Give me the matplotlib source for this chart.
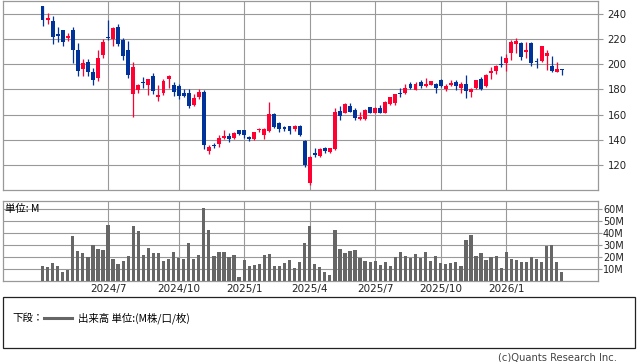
import numpy as np
import pandas as pd
import matplotlib
matplotlib.use('Agg')
import matplotlib.pyplot as plt
from matplotlib.patches import Rectangle
from matplotlib.lines import Line2D

# weekly candles, 2024/4 - 2026/3
weeks = pd.date_range('2024-04-01', periods=104, freq='W-MON')

opens = [245.8, 234.7, 233.9, 224.2, 226.8, 220.7, 226.8, 211.0, 196.0, 201.8,
         193.8, 189.1, 207.0, 221.2, 219.7, 229.4, 219.4, 211.5, 176.7, 179.9,
         186.2, 183.3, 190.6, 174.0, 177.2, 188.0, 183.3, 182.5, 177.2, 177.2,
         167.5, 173.6, 178.0, 131.3, 135.8, 136.4, 141.1, 143.2, 141.1, 147.7,
         147.7, 142.4, 140.6, 148.0, 143.7, 146.9, 160.3, 153.0, 149.2, 150.9,
         149.0, 150.9, 139.0, 106.0, 129.9, 127.1, 133.2, 130.5, 132.4, 163.0,
         161.4, 166.9, 163.5, 156.6, 156.6, 166.1, 161.4, 165.6, 161.4, 168.4,
         169.6, 176.9, 177.2, 184.1, 179.9, 185.7, 182.5, 183.8, 184.6, 187.2,
         180.7, 183.3, 185.9, 181.5, 184.6, 178.0, 181.5, 188.6, 182.7, 193.0,
         194.6, 200.3, 200.9, 208.8, 216.3, 216.7, 209.6, 216.7, 202.3, 202.3,
         206.5, 198.3, 193.8, 195.6]
highs = [246.5, 240.8, 237.9, 229.4, 227.0, 225.0, 229.4, 216.7, 203.8, 203.8,
         197.0, 211.0, 219.7, 234.7, 229.4, 231.5, 221.0, 218.1, 201.7, 184.6,
         189.9, 188.6, 193.0, 183.3, 188.6, 191.7, 185.9, 184.6, 180.7, 180.7,
         176.7, 180.7, 179.3, 135.8, 137.6, 143.7, 147.7, 145.1, 146.3, 148.0,
         148.2, 143.0, 146.3, 149.5, 149.5, 170.1, 160.9, 154.3, 150.9, 150.9,
         151.7, 151.7, 139.8, 127.2, 133.2, 133.2, 134.5, 133.7, 165.3, 166.7,
         169.3, 169.6, 164.9, 162.2, 164.4, 166.1, 166.1, 167.5, 170.9, 174.0,
         176.7, 181.2, 184.1, 185.5, 185.9, 187.2, 189.4, 187.0, 185.3, 188.0,
         184.1, 187.2, 187.2, 185.9, 191.2, 181.2, 187.8, 189.9, 192.0, 197.8,
         199.1, 206.2, 208.4, 218.9, 221.0, 217.5, 217.5, 217.5, 205.2, 214.8,
         211.0, 206.2, 201.7, 196.0]
lows = [230.2, 231.8, 216.3, 217.5, 214.4, 218.3, 201.0, 190.4, 190.4, 190.4,
        183.3, 186.7, 204.9, 219.5, 214.4, 214.4, 203.0, 189.4, 158.2, 177.2,
        181.5, 175.9, 176.7, 170.9, 175.4, 181.5, 174.8, 172.0, 174.0, 165.6,
        166.7, 172.5, 132.5, 128.7, 133.2, 134.5, 140.6, 138.0, 140.6, 144.2,
        141.6, 139.2, 139.8, 146.3, 140.6, 146.3, 149.5, 145.9, 146.9, 144.3,
        146.9, 143.2, 118.7, 104.0, 126.1, 126.1, 129.9, 129.9, 131.9, 155.6,
        160.9, 162.2, 155.6, 156.0, 156.0, 160.9, 160.9, 160.9, 160.9, 167.5,
        168.0, 174.0, 176.7, 180.0, 179.3, 181.5, 181.9, 183.5, 177.2, 182.0,
        178.8, 182.5, 179.9, 177.2, 172.8, 174.0, 180.7, 179.9, 182.0, 188.6,
        192.5, 197.8, 194.6, 203.6, 208.8, 203.1, 205.2, 198.6, 197.0, 201.8,
        195.7, 193.8, 193.8, 191.2]
closes = [235.3, 236.8, 221.5, 222.3, 217.5, 222.3, 211.0, 194.6, 201.0, 193.8,
          187.2, 204.9, 217.5, 220.8, 228.6, 216.3, 206.2, 191.2, 197.8, 183.3,
          185.1, 188.6, 178.8, 175.9, 186.4, 190.6, 178.0, 174.8, 174.8, 166.9,
          173.2, 178.0, 135.8, 134.0, 135.4, 141.6, 143.2, 140.6, 145.6, 144.5,
          143.7, 140.3, 145.9, 148.7, 149.0, 160.3, 150.3, 149.0, 149.0, 146.9,
          150.9, 143.7, 120.0, 126.6, 128.0, 132.7, 131.3, 133.2, 162.2, 158.8,
          168.3, 162.2, 157.0, 158.2, 163.5, 161.4, 165.3, 161.4, 170.1, 173.6,
          176.0, 176.5, 181.5, 180.9, 184.6, 182.5, 184.1, 186.4, 181.5, 182.5,
          182.5, 185.1, 182.7, 184.6, 178.5, 180.7, 187.2, 180.7, 191.2, 194.6,
          198.3, 199.5, 205.2, 217.5, 218.3, 205.7, 211.5, 200.9, 201.8, 214.8,
          209.1, 194.4, 196.0, 195.0]
# volume, millions
volume = [12.5, 11.7, 15.0, 12.5, 7.5, 9.2, 37.5, 25.0, 23.3, 20.0,
          30.0, 26.7, 25.8, 46.7, 18.3, 14.2, 16.7, 20.8, 45.8, 41.7,
          21.7, 27.5, 23.3, 23.3, 16.7, 18.3, 24.2, 19.2, 18.3, 31.7,
          18.3, 21.7, 60.8, 42.5, 20.8, 24.2, 24.2, 20.0, 21.7, 3.3,
          17.5, 12.5, 13.3, 14.2, 21.7, 22.5, 12.5, 12.5, 15.0, 17.5,
          10.8, 15.8, 31.7, 45.8, 14.2, 11.7, 7.5, 5.0, 42.5, 26.7,
          23.3, 25.0, 25.8, 19.2, 16.7, 15.8, 16.7, 13.3, 15.8, 12.5,
          20.0, 24.2, 20.8, 19.2, 22.5, 19.2, 24.2, 16.7, 20.8, 15.0,
          14.2, 15.0, 15.8, 12.5, 34.2, 38.3, 20.8, 23.3, 17.5, 20.0,
          20.8, 10.8, 24.0, 18.0, 17.5, 16.0, 16.0, 20.0, 18.3, 16.0,
          29.2, 30.0, 16.0, 7.5]

price_ticks = [120, 140, 160, 180, 200, 220, 240]
volume_ticks = [10, 20, 30, 40, 50, 60]
volume_labels = ['10M', '20M', '30M', '40M', '50M', '60M']

UP = '#ff0033'
DOWN = '#003399'
GRID = '#999999'
JP = ['Noto Sans CJK JP', 'DejaVu Sans']

plt.rcParams['font.family'] = ['DejaVu Sans', 'Noto Sans CJK JP']

W, H = 638, 362
fig = plt.figure(figsize=(W / 100, H / 100), dpi=100)

def box(x0, y0, x1, y1):
    return [x0 / W, 1 - y1 / H, (x1 - x0) / W, (y1 - y0) / H]

ax = fig.add_axes(box(3, 0.5, 598, 190.3))
axv = fig.add_axes(box(3, 201, 598, 281), sharex=ax)

idx = np.arange(len(weeks))
o = np.array(opens); c = np.array(closes)
colors = [UP if cc > oo else DOWN for oo, cc in zip(o, c)]

# month gridlines: first week of Jan/Apr/Jul/Oct
xt, xl = [], []
for i in range(1, len(weeks)):
    if weeks[i].month != weeks[i - 1].month and weeks[i].month in (1, 4, 7, 10):
        xt.append(i)
        xl.append(f'{weeks[i].year}/{weeks[i].month}')

# candles
ax.vlines(idx, lows, highs, colors=colors, linewidth=0.9, zorder=3)
body_h = np.maximum(np.abs(c - o), 0.8)
ax.bar(idx, body_h, bottom=np.minimum(o, c), width=0.78, color=colors,
       linewidth=0, zorder=4)

ax.set_xlim(-7.84, 110.2)
ax.set_ylim(100, 250.5)
ax.set_yticks(price_ticks)
ax.yaxis.tick_right()
ax.tick_params(axis='y', length=3.6, width=0.8, color=GRID, pad=3.4,
               labelsize=7.3, labelcolor='#222222')
ax.set_xticks(xt)
ax.tick_params(axis='x', length=0, labelbottom=False)
ax.grid(True, color=GRID, linewidth=0.8)
ax.set_axisbelow(True)

# volume
axv.bar(idx, volume, width=0.65, color='#666666', linewidth=0, zorder=3)
axv.set_ylim(0, 66.7)
axv.set_yticks(volume_ticks)
axv.set_yticklabels(volume_labels)
axv.yaxis.tick_right()
axv.tick_params(axis='y', length=2.8, width=0.8, color=GRID, pad=0.8,
                labelsize=7, labelcolor='#222222')
axv.set_xticks(xt)
axv.set_xticklabels(xl)
axv.tick_params(axis='x', length=0, pad=2, labelsize=7.5, labelcolor='#222222')
axv.grid(True, color=GRID, linewidth=0.8)
axv.set_axisbelow(True)
axv.text(0.004, 0.9, '単位: M', transform=axv.transAxes, fontsize=7.5,
         family=JP, va='center', ha='left', zorder=5)

for a in (ax, axv):
    for s in a.spines.values():
        s.set_color(GRID)
        s.set_linewidth(0.9)

# legend box
fig.patches.append(Rectangle((3 / W, 1 - 348 / H), 632 / W, 51 / H,
                             transform=fig.transFigure, fill=False,
                             edgecolor='#222222', linewidth=0.9))
fig.text(12 / W, 1 - 318 / H, '下段：', family=JP, fontsize=7.5,
         va='center', ha='left')
fig.lines.append(Line2D([44 / W, 72 / W], [1 - 318 / H, 1 - 318 / H],
                        transform=fig.transFigure, color='#666666',
                        linewidth=2.2))
fig.text(78 / W, 1 - 318 / H, '出来高 単位:(M株/口/枚)', family=JP,
         fontsize=7.5, va='center', ha='left')
fig.text(617 / W, 1 - 357 / H, '(c)Quants Research Inc.', fontsize=7.2,
         color='#444444', va='center', ha='right')

fig.savefig('out.png', dpi=100)
